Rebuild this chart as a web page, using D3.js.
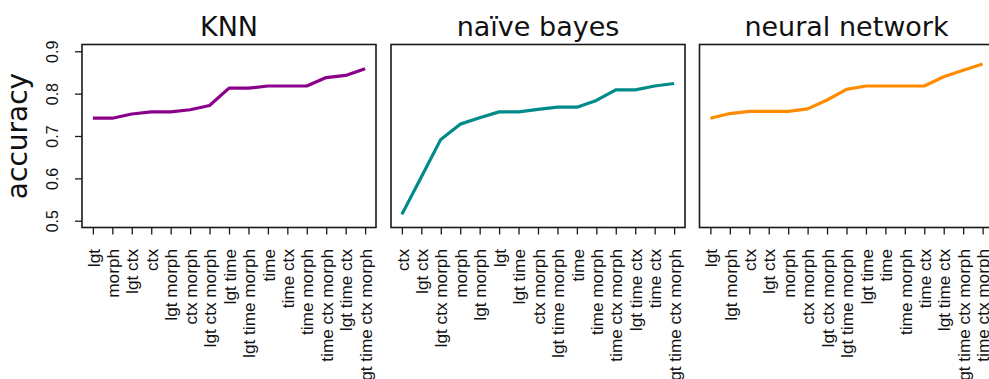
<!DOCTYPE html>
<html>
<head>
<meta charset="utf-8">
<script src="https://cdn.jsdelivr.net/npm/d3@7"></script>
<style>
  html, body { margin: 0; padding: 0; background: #fff; }
  svg { display: block; }
</style>
</head>
<body>
<svg id="chart" width="989" height="379"></svg>
<script>
// Accuracy of each feature set, per classifier (sorted ascending within each model)
const knnFeatures = ["lgt", "morph", "lgt ctx", "ctx", "lgt morph", "ctx morph", "lgt ctx morph",
  "lgt time", "lgt time morph", "time", "time ctx", "time morph", "time ctx morph",
  "lgt time ctx", "lgt time ctx morph"];
const knnAccuracy = [0.742, 0.742, 0.752, 0.757, 0.757, 0.762, 0.772,
  0.813, 0.813, 0.818, 0.818, 0.818, 0.838, 0.843, 0.859];

const nbFeatures = ["ctx", "lgt ctx", "lgt ctx morph", "morph", "lgt morph", "lgt",
  "lgt time", "ctx morph", "lgt time morph", "time", "time morph", "time ctx morph",
  "lgt time ctx", "time ctx", "lgt time ctx morph"];
const nbAccuracy = [0.515, 0.603, 0.692, 0.728, 0.743, 0.757, 0.757, 0.763,
  0.768, 0.768, 0.784, 0.809, 0.809, 0.818, 0.824];

const nnFeatures = ["lgt", "lgt morph", "ctx", "lgt ctx", "morph", "ctx morph",
  "lgt ctx morph", "lgt time morph", "lgt time", "time", "time morph", "time ctx",
  "lgt time ctx", "lgt time ctx morph", "time ctx morph"];
const nnAccuracy = [0.742, 0.753, 0.758, 0.758, 0.758, 0.764, 0.785, 0.810,
  0.818, 0.818, 0.818, 0.818, 0.840, 0.855, 0.870];

const panelTitles = ["KNN", "naïve bayes", "neural network"];
const panelColors = ["#8b008b", "#008b8b", "#ff8c00"];
const yTicks = [0.5, 0.6, 0.7, 0.8, 0.9];
const yLabel = "accuracy";

const panels = [
  { title: panelTitles[0], color: panelColors[0], cats: knnFeatures, vals: knnAccuracy },
  { title: panelTitles[1], color: panelColors[1], cats: nbFeatures, vals: nbAccuracy },
  { title: panelTitles[2], color: panelColors[2], cats: nnFeatures, vals: nnAccuracy }
];

const svg = d3.select("#chart");
const boxTop = 44.5, boxBottom = 227.5, boxW = 294;
const panelLeft = [82, 391, 699.5];

const y = d3.scaleLinear().domain([0.484, 0.916]).range([boxBottom, boxTop]);

panels.forEach((p, i) => {
  const left = panelLeft[i];
  const n = p.cats.length;
  const pad = (n - 1) * 0.04;
  const x = d3.scaleLinear().domain([-pad, n - 1 + pad]).range([left, left + boxW]);

  const g = svg.append("g");

  // plot frame
  g.append("rect")
    .attr("x", left).attr("y", boxTop)
    .attr("width", boxW).attr("height", boxBottom - boxTop)
    .attr("fill", "none").attr("stroke", "#1a1a1a").attr("stroke-width", 1.6);

  // title
  g.append("text")
    .attr("x", left + boxW / 2).attr("y", 36)
    .attr("text-anchor", "middle")
    .attr("font-family", "DejaVu Sans, sans-serif")
    .attr("font-size", 27)
    .attr("fill", "#111")
    .text(p.title);

  // x axis with rotated category labels
  const xAxis = d3.axisBottom(x)
    .tickValues(d3.range(n))
    .tickSize(7)
    .tickSizeOuter(0)
    .tickFormat(d => p.cats[d]);
  const ax = g.append("g")
    .attr("transform", `translate(0,${boxBottom})`)
    .call(xAxis);
  ax.select(".domain").remove();
  ax.selectAll(".tick line").attr("stroke", "#1a1a1a").attr("stroke-width", 1.3);
  ax.selectAll(".tick text")
    .attr("transform", "translate(0,21.5) rotate(-90)")
    .attr("x", 0).attr("y", 0).attr("dy", "0.36em")
    .attr("text-anchor", "end")
    .attr("font-family", "Liberation Sans, Arial, sans-serif")
    .attr("font-size", 17.2)
    .attr("fill", "#111");

  // series line
  const line = d3.line()
    .x((d, j) => x(j))
    .y(d => y(d));
  g.append("path")
    .datum(p.vals)
    .attr("d", line)
    .attr("fill", "none")
    .attr("stroke", p.color)
    .attr("stroke-width", 3.2)
    .attr("stroke-linejoin", "round");

  if (i === 0) {
    const yAxis = d3.axisLeft(y).tickValues(yTicks).tickSize(7).tickSizeOuter(0)
      .tickFormat(d3.format(".1f"));
    const ay = g.append("g")
      .attr("transform", `translate(${left},0)`)
      .call(yAxis);
    ay.select(".domain").remove();
    ay.selectAll(".tick line").attr("stroke", "#1a1a1a").attr("stroke-width", 1.3);
    ay.selectAll(".tick text")
      .attr("transform", "translate(-24,0) rotate(-90)")
      .attr("x", 0).attr("y", 0).attr("dy", 0)
      .attr("text-anchor", "middle")
      .attr("font-family", "Liberation Sans, Arial, sans-serif")
      .attr("font-size", 16)
      .attr("fill", "#111");

    g.append("text")
      .attr("transform", `translate(27,${(boxTop + boxBottom) / 2}) rotate(-90)`)
      .attr("text-anchor", "middle")
      .attr("font-family", "DejaVu Sans, sans-serif")
      .attr("font-size", 28)
      .attr("fill", "#111")
      .text(yLabel);
  }
});
</script>
</body>
</html>
